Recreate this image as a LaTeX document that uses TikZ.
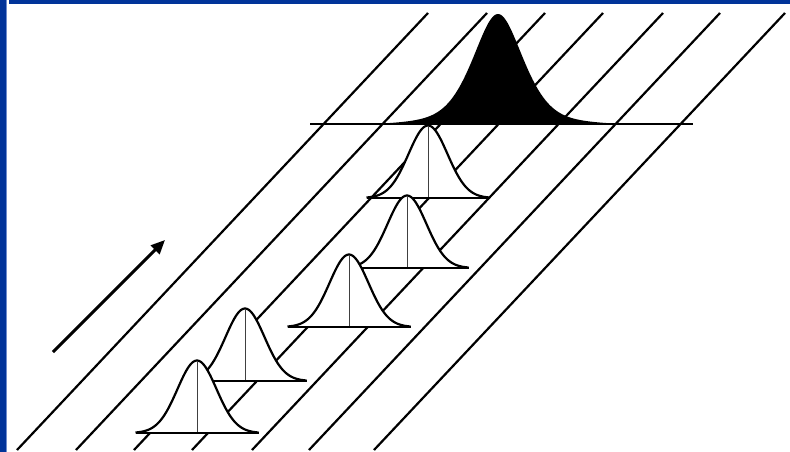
\documentclass[tikz,border=0pt]{standalone}
\usetikzlibrary{arrows.meta}
\definecolor{frameblue}{RGB}{0,51,153}
\definecolor{frameedge}{RGB}{110,140,205}
\tikzset{
  diag/.style={line width=2.2pt, black},
  flowarrow/.style={line width=3pt, black, -{Triangle[length=14pt,width=12pt]}},
  bellline/.style={line width=2.2pt, black, line join=round},
  baseln/.style={line width=2.5pt, black},
  centerln/.style={line width=0.8pt, black!75},
}
\newcommand{\gbell}[2]{%
  \fill[white] plot[domain=-61.5:61.5,samples=81] ({#1+\x},{#2-72.5*exp(-((\x)^2)/760.5)}) -- cycle;
  \draw[bellline] plot[domain=-61.5:61.5,samples=81] ({#1+\x},{#2-72.5*exp(-((\x)^2)/760.5)});
  \draw[centerln] (#1,#2) -- (#1,#2-72.5);
  \draw[baseln] (#1-61.5,#2) -- (#1+61.5,#2);
}
\begin{document}
\begin{tikzpicture}[x=1pt,y=-1pt]
\useasboundingbox (0,0) rectangle (790,452);
% frame
\fill[frameblue] (0,0) rectangle (6.3,452);
\draw[frameedge, line width=0.8pt] (6.7,0) -- (6.7,452);
\fill[frameblue] (9,0) rectangle (790,4);
% diagonal lines
\foreach \t/\b in {428/17, 487/76, 545/134, 603/192, 663/252, 720/309, 785/374} {
  \coordinate (top\t) at (\t,13);
  \coordinate (bot\t) at (\b,450);
  \draw[diag] (bot\t) -- (top\t);
}
% arrow
\coordinate (arrowtail) at (53,352);
\coordinate (arrowtip) at (165,240);
\draw[flowarrow] (arrowtail) -- (arrowtip);
% black distribution (half Gaussian, half Lorentzian)
\fill[black] plot[domain=-125:125,samples=181]
  ({498+\x},{124-110*((0.5*exp(-((\x)^2)/1352)+0.5/(1+((\x)/30)^2))-0.027)/0.973}) -- cycle;
\coordinate (blackL) at (310,124);
\coordinate (blackR) at (693,124);
\draw[baseln] (blackL) -- (blackR);
% bells, back to front
\gbell{428}{198}
\gbell{407}{268}
\gbell{349}{327}
\gbell{245}{381}
\gbell{197}{433}
\end{tikzpicture}
\end{document}
